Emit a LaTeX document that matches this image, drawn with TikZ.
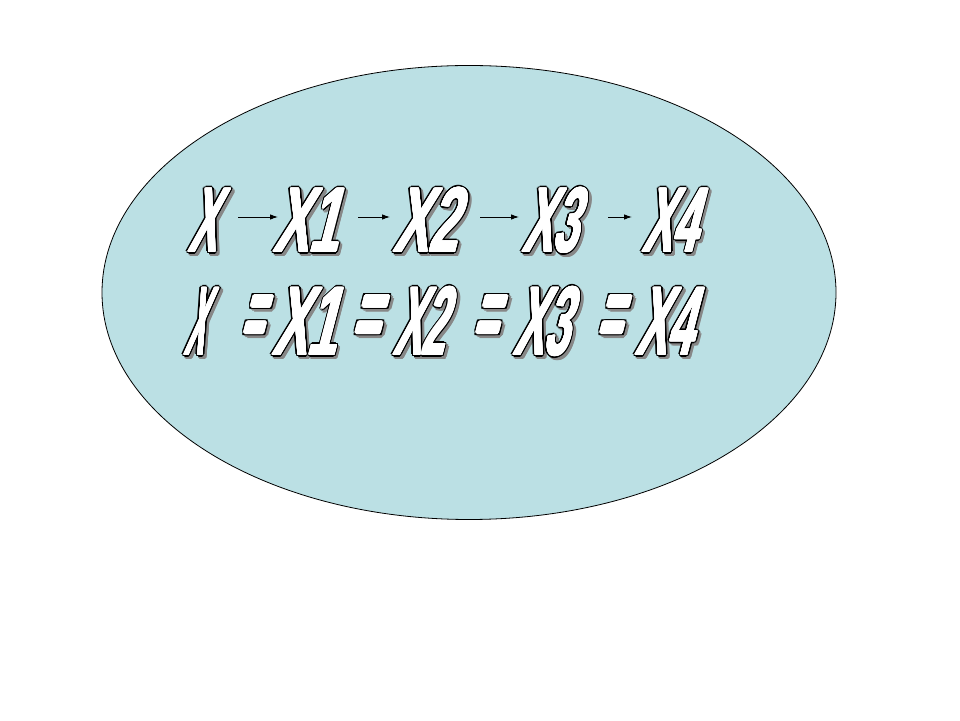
\documentclass[tikz,border=0pt]{standalone}
\usepackage{fontspec}
\newfontfamily\wafont{Liberation Sans}
\usetikzlibrary{arrows.meta,calc,shapes.geometric}
\definecolor{ellfill}{RGB}{187,224,228}
\definecolor{shadowc}{RGB}{135,135,135}
\tikzset{
  wabase/.style={inner sep=0pt,outer sep=0pt,anchor=base west,
    font=\wafont\bfseries\fontsize{40pt}{40pt}\selectfont},
  seqarrow/.style={line width=0.9pt,-{Latex[length=8pt,width=5.5pt]}},
}
% [#1 white thickening], #2 name, #3 x, #4 baseline y, #5 xscale, #6 yscale, #7 text
\newcommand\wordart[7][0.8]{%
  \pgfmathsetmacro\wabr{#1+1.3}%
  \foreach \ang in {0,30,...,330}{%
    \begin{scope}[shift={($(#3,#4)+(2.2,-2.4)+(\ang:\wabr)$)}]
      \node[wabase,text=shadowc,xslant=0.26,xscale=#5,yscale=#6] at (0,0) {#7};
    \end{scope}}%
  \foreach \ang in {0,22.5,...,337.5}{%
    \begin{scope}[shift={($(#3,#4)+(\ang:\wabr)$)}]
      \node[wabase,text=black,xslant=0.26,xscale=#5,yscale=#6] at (0,0) {#7};
    \end{scope}}%
  \foreach \ang in {0,30,...,330}{%
    \begin{scope}[shift={($(#3,#4)+(\ang:#1)$)}]
      \node[wabase,text=white,xslant=0.26,xscale=#5,yscale=#6] at (0,0) {#7};
    \end{scope}}%
  \begin{scope}[shift={(#3,#4)}]
    \node[wabase,text=white,xslant=0.26,xscale=#5,yscale=#6] (#2) at (0,0) {#7};
  \end{scope}}
\begin{document}
\begin{tikzpicture}[x=1pt,y=1pt]
\useasboundingbox (0,0) rectangle (960,720);
\fill[white] (0,0) rectangle (960,720);
\node[ellipse,draw=black,line width=0.8pt,fill=ellfill,minimum width=734pt,minimum height=454pt,inner sep=0pt] (ell) at (469,427.5) {};
% top row
\wordart{t0}{188}{468}{1.04}{2.30}{X}
\wordart{t1}{273}{468}{1.32}{2.30}{X1}
\wordart{t2}{393}{468}{1.31}{2.30}{X2}
\wordart{t3}{522}{468}{1.12}{2.30}{X3}
\wordart{t4}{642}{468}{1.10}{2.30}{X4}
% arrows
\coordinate (a1s) at (238,503); \coordinate (a1e) at (278,503);
\coordinate (a2s) at (358,503); \coordinate (a2e) at (390,503);
\coordinate (a3s) at (480,503); \coordinate (a3e) at (519,503);
\coordinate (a4s) at (608,503); \coordinate (a4e) at (632,503);
\draw[seqarrow] (a1s) -- (a1e);
\draw[seqarrow] (a2s) -- (a2e);
\draw[seqarrow] (a3s) -- (a3e);
\draw[seqarrow] (a4s) -- (a4e);
% bottom row
\wordart{b0}{184}{365}{0.70}{2.44}{X}
\wordart[1.6]{e1}{240}{373}{0.90}{2.45}{=}
\wordart{b1}{272}{365}{1.30}{2.44}{X1}
\wordart[1.6]{e2}{351}{373}{1.15}{2.45}{=}
\wordart{b2}{393}{365}{1.04}{2.44}{X2}
\wordart[1.6]{e3}{472}{373}{1.02}{2.45}{=}
\wordart{b3}{513}{365}{1.12}{2.44}{X3}
\wordart[1.6]{e4}{596}{373}{1.02}{2.45}{=}
\wordart{b4}{635}{365}{1.16}{2.44}{X4}
\end{tikzpicture}
\end{document}
